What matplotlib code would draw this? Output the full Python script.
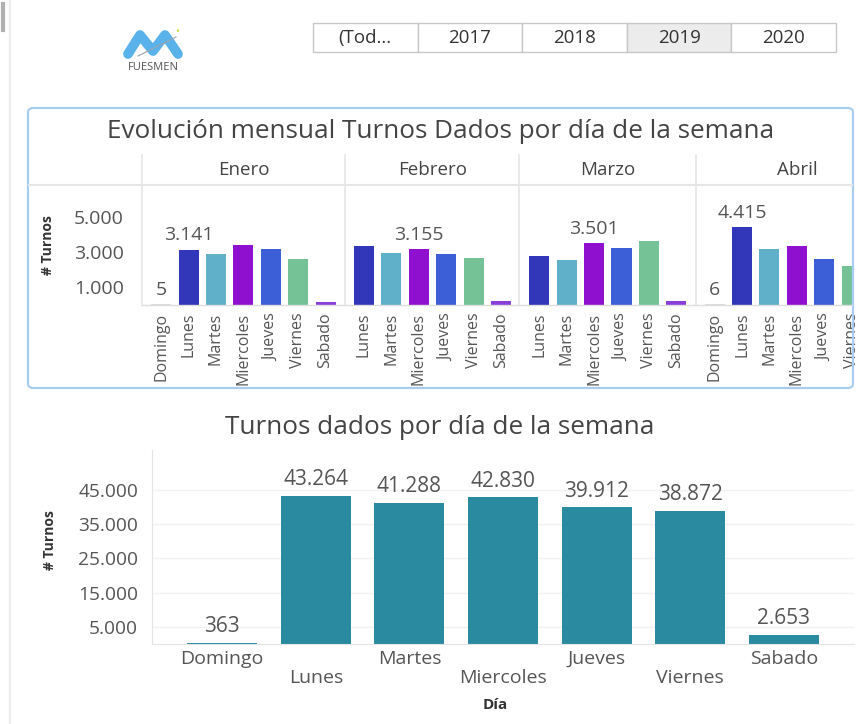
"""Power BI style dashboard: monthly turnos by weekday (small multiples)
plus total turnos per weekday.
"""

import matplotlib

matplotlib.use("Agg")
import matplotlib.pyplot as plt  # noqa: E402
from matplotlib.lines import Line2D  # noqa: E402
from matplotlib.patches import FancyBboxPatch, Rectangle  # noqa: E402

W, H = 859, 724

# --- data -------------------------------------------------------------------
years = ["(Tod...", "2017", "2018", "2019", "2020"]
selected_year = "2019"

months = ["Enero", "Febrero", "Marzo", "Abril"]
enero_dias = ["Domingo", "Lunes", "Martes", "Miercoles", "Jueves", "Viernes", "Sabado"]
enero_vals = [5, 3141, 2880, 3400, 3170, 2590, 130]
febrero_dias = ["Lunes", "Martes", "Miercoles", "Jueves", "Viernes", "Sabado"]
febrero_vals = [3320, 2960, 3155, 2880, 2650, 190]
marzo_dias = ["Lunes", "Martes", "Miercoles", "Jueves", "Viernes", "Sabado"]
marzo_vals = [2780, 2520, 3501, 3245, 3650, 190]
abril_dias = ["Domingo", "Lunes", "Martes", "Miercoles", "Jueves", "Viernes", "Sabado"]
abril_vals = [6, 4415, 3170, 3340, 2590, 2210, 150]
# which bars carry a data label in each facet
labelled = {"Enero": ["Domingo", "Lunes"], "Febrero": ["Miercoles"],
            "Marzo": ["Miercoles"], "Abril": ["Domingo", "Lunes"]}

dias = ["Domingo", "Lunes", "Martes", "Miercoles", "Jueves", "Viernes", "Sabado"]
turnos = [363, 43264, 41288, 42830, 39912, 38872, 2653]

day_colors = {"Domingo": "#dcdcdc", "Lunes": "#3236b8", "Martes": "#5fb0c8",
              "Miercoles": "#9010d0", "Jueves": "#3c5ed6", "Viernes": "#74c296",
              "Sabado": "#8a40d8"}
BAR = "#2a8aa0"
TXT = "#555555"


def fmt(v):
    return f"{v:,.0f}".replace(",", ".")


def box(x0, y0, x1, y1):
    """pixel box (top-left origin) -> figure rect [l, b, w, h]"""
    return [x0 / W, 1 - y1 / H, (x1 - x0) / W, (y1 - y0) / H]


plt.rcParams["font.family"] = ["Open Sans", "DejaVu Sans"]
fig = plt.figure(figsize=(W / 100, H / 100), dpi=100)
tf = fig.transFigure


def px(x, y):
    return x / W, 1 - y / H


def hline(y, x0, x1, color, lw=1.0):
    fig.add_artist(Line2D([x0 / W, x1 / W], [1 - y / H] * 2, transform=tf, color=color, lw=lw))


def vline(x, y0, y1, color, lw=1.0):
    fig.add_artist(Line2D([x / W] * 2, [1 - y0 / H, 1 - y1 / H], transform=tf, color=color, lw=lw))


# page edge + scroll marker
vline(10, 0, H, "#ececec", 1.5)
vline(3, 4, 30, "#b0b0b0", 3)

# logo
logo_x = [128, 140, 153, 165, 178]
logo_y = [54, 35, 51, 35, 54]
fig.add_artist(Line2D([x / W for x in logo_x], [1 - y / H for y in logo_y], transform=tf,
                      color="#5ab2ea", lw=7, solid_capstyle="round", solid_joinstyle="round"))
fig.add_artist(Line2D([138 / W, 176 / W], [1 - 56 / H, 1 - 37 / H], transform=tf, color="#9aa4ad", lw=0.8))
fig.text(*px(177, 32), "•", color="#c8e04a", fontsize=8, ha="center", va="center")
fig.text(*px(153, 68), "FUESMEN", color="#555555", fontsize=8, ha="center", va="center")

# year slicer
cell_w = 104.6
for i, yr in enumerate(years):
    x0 = 313 + i * cell_w
    fc = "#ececec" if yr == selected_year else "white"
    fig.add_artist(Rectangle(px(x0, 52), cell_w / W, 29 / H, transform=tf,
                             facecolor=fc, edgecolor="#c8c8c8", lw=1))
    fig.text(*px(x0 + cell_w / 2, 38), yr, color="#333333", fontsize=13.5, ha="center", va="center")

# --- top panel: small multiples --------------------------------------------
fig.add_artist(FancyBboxPatch(px(28, 388), 825 / W, 280 / H, transform=tf,
                              boxstyle="round,pad=0,rounding_size=0.006",
                              facecolor="none", edgecolor="#a8cdf2", lw=1.6))
fig.text(*px(441, 131), "Evolución mensual Turnos Dados por día de la semana",
         color="#444444", fontsize=18.8, ha="center", va="center")

hline(185, 29, 852, "#e6e6e6", 1.5)
for x in [142, 345, 519, 696]:
    vline(x, 155, 305, "#e6e6e6", 1.2)

pitch = 27.4
facets = [("Enero", enero_dias, enero_vals), ("Febrero", febrero_dias, febrero_vals),
          ("Marzo", marzo_dias, marzo_vals), ("Abril", abril_dias, abril_vals)]
x_left = 142
top_ymax = (304.5 - 185) / 17.5 * 1000
for k, (mes, cats, vals) in enumerate(facets):
    full_w = (len(cats) - 1 + 1.4) * pitch
    x_right = min(x_left + full_w, 853)
    ax = fig.add_axes(box(x_left, 185, x_right, 304.5))
    ax.set_facecolor("none")
    xs = range(len(cats))
    ax.bar(xs, vals, width=0.73, color=[day_colors[c] for c in cats])
    for s in ax.spines.values():
        s.set_visible(False)
    ax.set_xticks(list(xs))
    ax.set_xticklabels(cats, rotation=90, fontsize=11.5, color=TXT)
    ax.tick_params(axis="x", length=0, pad=6)
    if k == 0:
        ax.set_yticks([1000, 3000, 5000])
        ax.set_yticklabels([fmt(v) for v in [1000, 3000, 5000]], fontsize=14, color=TXT)
        ax.tick_params(axis="y", length=0, pad=13)
    else:
        ax.set_yticks([])
    # limits after the ticks, so the clipped Abril facet stays clipped
    ax.set_xlim(-0.7, (x_right - x_left) / pitch - 0.7)
    ax.set_ylim(0, top_ymax)
    for i, (c, v) in enumerate(zip(cats, vals)):
        if c in labelled[mes]:
            ax.annotate(fmt(v), (i, v), xytext=(0, 4), textcoords="offset points",
                        ha="center", va="bottom", fontsize=14, color=TXT)
    fig.text(*px(x_left + full_w / 2, 170), mes, color="#444444", fontsize=13.5,
             ha="center", va="center")
    x_left += full_w

hline(304.5, 142, 852, "#dddddd", 1.0)
fig.text(*px(48, 245), "# Turnos", rotation=90, color="#333333", fontsize=10,
         fontweight="bold", ha="center", va="center")

# --- bottom chart -------------------------------------------------------------
ax2 = fig.add_axes(box(152, 450, 854, 644))
ax2.bar(range(len(dias)), turnos, width=0.75, color=BAR)
yt = [5000, 15000, 25000, 35000, 45000]
ax2.set_yticks(yt)
ax2.set_yticklabels([fmt(v) for v in yt], fontsize=13.8, color=TXT)
ax2.grid(axis="y", color="#f2f2f2", lw=1)
ax2.set_axisbelow(True)
for side in ["top", "right"]:
    ax2.spines[side].set_visible(False)
for side in ["left", "bottom"]:
    ax2.spines[side].set_color("#e4e4e4")
ax2.tick_params(length=0)
ax2.tick_params(axis="y", pad=10)
ax2.set_xticks(range(len(dias)))
ax2.set_xticklabels([d if i % 2 == 0 else "\n" + d for i, d in enumerate(dias)],
                    fontsize=14, color=TXT, linespacing=1.1)
ax2.tick_params(axis="x", pad=4)
ax2.set_xlim(-0.75, len(dias) - 0.25)
ax2.set_ylim(0, 56700)
for i, v in enumerate(turnos):
    ax2.annotate(fmt(v), (i, v), xytext=(0, 4), textcoords="offset points",
                 ha="center", va="bottom", fontsize=15, color=TXT)
fig.text(*px(440, 427), "Turnos dados por día de la semana", fontsize=18.8,
         color="#444444", ha="center", va="center")
fig.text(*px(495, 705), "Día", color="#333333", fontsize=11, fontweight="bold",
         ha="center", va="center")
fig.text(*px(50, 540), "# Turnos", rotation=90, color="#333333", fontsize=10,
         fontweight="bold", ha="center", va="center")

fig.savefig("out.png", dpi=100)
